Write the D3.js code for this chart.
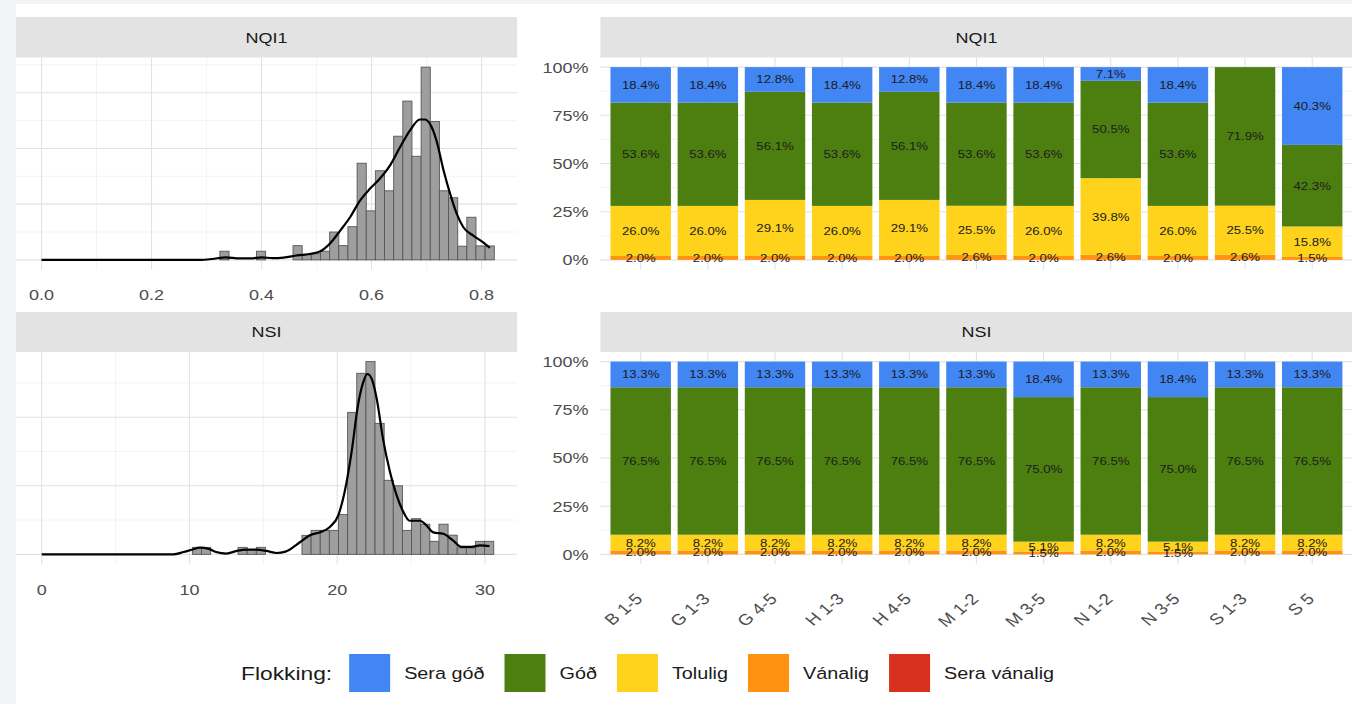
<!DOCTYPE html>
<html>
<head>
<meta charset="utf-8">
<script src="https://cdn.jsdelivr.net/npm/d3@7"></script>
<style>
  html, body { margin: 0; padding: 0; background: #f2f3f5; }
  svg { display: block; font-family: "Liberation Sans", Arial, sans-serif; }
</style>
</head>
<body>
<svg id="chart" width="1352" height="704"></svg>
<script>
// ---------------- data ----------------
// NQI1 histogram (density scale), bin mids and heights
const nqiBinWidth = 0.01663;
const nqiBinMids = [0.3326, 0.3991, 0.4656, 0.4823, 0.4989, 0.5155, 0.5322, 0.5488, 0.5654, 0.5821,
  0.5987, 0.6153, 0.6319, 0.6486, 0.6652, 0.6818, 0.6985, 0.7151, 0.7317, 0.7484,
  0.7650, 0.7816, 0.7982, 0.8149];
const nqiBinDensity = [0.31, 0.31, 0.51, 0.18, 0.22, 0.31, 1.0, 0.51, 1.19, 3.47,
  1.76, 3.2, 2.48, 4.44, 5.7, 3.72, 6.92, 4.97, 2.48, 2.23,
  0.49, 1.53, 0.5, 0.5];
// NQI1 kernel density estimate
const nqiCurveX = [0, 0.1, 0.2, 0.29, 0.31, 0.335, 0.36, 0.38, 0.40, 0.42, 0.44, 0.465, 0.49, 0.506,
  0.525, 0.543, 0.561, 0.579, 0.597, 0.615, 0.634, 0.652, 0.670, 0.688, 0.697, 0.706, 0.718,
  0.731, 0.743, 0.755, 0.767, 0.785, 0.803, 0.815];
const nqiCurveY = [0, 0, 0, 0, 0.03, 0.09, 0.05, 0.05, 0.09, 0.06, 0.08, 0.16, 0.22, 0.3,
  0.6, 1.05, 1.53, 2.13, 2.55, 2.91, 3.4, 4.05, 4.65, 5.04, 5.04, 4.89, 4.29,
  3.21, 2.37, 1.65, 1.17, 0.87, 0.63, 0.43];
const nqiXTicks = [0, 0.2, 0.4, 0.6, 0.8];
const nqiXMinor = [0.1, 0.3, 0.5, 0.7];
const nqiYTicks = [0, 2, 4, 6];
const nqiYMinor = [1, 3, 5, 7];

// NSI histogram (density scale)
const nsiBinWidth = 0.618;
const nsiBinMids = [10.506, 11.124, 13.596, 14.214, 14.832, 17.922, 18.54, 19.158, 19.776, 20.394,
  21.012, 21.63, 22.248, 22.866, 23.484, 24.102, 24.72, 25.338, 25.956, 26.574,
  27.192, 27.81, 28.428, 29.046, 29.664, 30.282];
const nsiBinDensity = [0.0102, 0.0102, 0.0102, 0.0066, 0.0102, 0.0277, 0.035, 0.035, 0.035, 0.058,
  0.207, 0.264, 0.281, 0.191, 0.108, 0.100, 0.035, 0.052, 0.044, 0.019,
  0.044, 0.028, 0.0095, 0.0095, 0.019, 0.019];
const nsiCurveX = [0, 4, 8.9, 9.6, 10.15, 10.7, 11.3, 11.8, 12.5, 13.2, 13.9, 14.5, 15.2, 15.9, 16.5,
  17.5, 18.15, 18.8, 19.5, 20.07, 20.5, 20.97, 21.4, 21.76, 22.03, 22.33, 22.67, 23.1, 23.57,
  24.02, 24.47, 24.9, 25.6, 26.05, 26.5, 27.17, 27.85, 28.4, 29.1, 29.66, 30.3];
const nsiCurveY = [0, 0, 0, 0.0034, 0.0068, 0.0097, 0.008, 0.0034, 0.0012, 0.005, 0.0068, 0.0068, 0.005, 0.002, 0.004,
  0.018, 0.028, 0.032, 0.040, 0.057, 0.091, 0.149, 0.217, 0.251, 0.263, 0.256, 0.227, 0.168, 0.120,
  0.086, 0.062, 0.049, 0.049, 0.042, 0.032, 0.030, 0.020, 0.011, 0.011, 0.013, 0.012];
const nsiXTicks = [0, 10, 20, 30];
const nsiXMinor = [5, 15, 25];
const nsiYTicks = [0, 0.1, 0.2];
const nsiYMinor = [0.05, 0.15, 0.25];

// Stacked shares per station group
const categories = ["B 1-5", "G 1-3", "G 4-5", "H 1-3", "H 4-5", "M 1-2", "M 3-5", "N 1-2", "N 3-5", "S 1-3", "S 5"];
const classes = ["Sera góð", "Góð", "Tolulig", "Vánalig", "Sera vánalig"];
const classColors = ["#4286f4", "#4c7f10", "#ffd21c", "#ff9210", "#d8321e"];

const nqiSeraGod     = [18.4, 18.4, 12.8, 18.4, 12.8, 18.4, 18.4, 7.1, 18.4, 0, 40.3];
const nqiGod         = [53.6, 53.6, 56.1, 53.6, 56.1, 53.6, 53.6, 50.5, 53.6, 71.9, 42.3];
const nqiTolulig     = [26.0, 26.0, 29.1, 26.0, 29.1, 25.5, 26.0, 39.8, 26.0, 25.5, 15.8];
const nqiVanalig     = [2.0, 2.0, 2.0, 2.0, 2.0, 2.6, 2.0, 2.6, 2.0, 2.6, 1.5];
const nqiSeraVanalig = [0, 0, 0, 0, 0, 0, 0, 0, 0, 0, 0];

const nsiSeraGod     = [13.3, 13.3, 13.3, 13.3, 13.3, 13.3, 18.4, 13.3, 18.4, 13.3, 13.3];
const nsiGod         = [76.5, 76.5, 76.5, 76.5, 76.5, 76.5, 75.0, 76.5, 75.0, 76.5, 76.5];
const nsiTolulig     = [8.2, 8.2, 8.2, 8.2, 8.2, 8.2, 5.1, 8.2, 5.1, 8.2, 8.2];
const nsiVanalig     = [2.0, 2.0, 2.0, 2.0, 2.0, 2.0, 1.5, 2.0, 1.5, 2.0, 2.0];
const nsiSeraVanalig = [0, 0, 0, 0, 0, 0, 0, 0, 0, 0, 0];

const yPctTicks = [0, 0.25, 0.5, 0.75, 1];
const yPctMinor = [0.125, 0.375, 0.625, 0.875];

// ---------------- layout & style ----------------
const SX = 1.2; // horizontal text stretch
const gridMajor = "#e2e2e2", gridMinor = "#f0f0f0";
const tickColor = "#4d4d4d", stripFill = "#e3e3e3", stripText = "#1a1a1a";

const svg = d3.select("#chart");
svg.append("rect").attr("x", 16).attr("y", 4).attr("width", 1336).attr("height", 700).attr("fill", "#ffffff");

function stext(g, x, y, str, size, color, anchor) {
  return g.append("text")
    .attr("transform", `translate(${x},${y}) scale(${SX},1)`)
    .attr("text-anchor", anchor || "middle")
    .attr("font-size", size)
    .attr("fill", color)
    .text(str);
}

function strip(x0, x1, y0, y1, label) {
  svg.append("rect").attr("x", x0).attr("y", y0).attr("width", x1 - x0).attr("height", y1 - y0).attr("fill", stripFill);
  stext(svg, (x0 + x1) / 2, (y0 + y1) / 2 + 5.3, label, 15, stripText);
}

// ---------------- histograms ----------------
function drawHist(o) {
  const x = d3.scaleLinear().domain(o.xDomain).range([o.x0, o.x1]);
  const maxH = d3.max(o.dens);
  const y = d3.scaleLinear().domain([-0.05 * maxH, 1.05 * maxH]).range([o.y1, o.y0]);
  const g = svg.append("g");

  o.xMinor.forEach(v => g.append("line").attr("x1", x(v)).attr("x2", x(v)).attr("y1", o.y0).attr("y2", o.y1).attr("stroke", gridMinor).attr("stroke-width", 0.8));
  o.yMinor.forEach(v => { if (y(v) > o.y0) g.append("line").attr("x1", o.x0).attr("x2", o.x1).attr("y1", y(v)).attr("y2", y(v)).attr("stroke", gridMinor).attr("stroke-width", 0.8); });
  o.xTicks.forEach(v => g.append("line").attr("x1", x(v)).attr("x2", x(v)).attr("y1", o.y0).attr("y2", o.y1).attr("stroke", gridMajor).attr("stroke-width", 1.1));
  o.yTicks.forEach(v => g.append("line").attr("x1", o.x0).attr("x2", o.x1).attr("y1", y(v)).attr("y2", y(v)).attr("stroke", gridMajor).attr("stroke-width", 1.1));

  g.selectAll("rect.bin").data(o.mids).enter().append("rect")
    .attr("x", d => x(d - o.binW / 2))
    .attr("width", d => x(d + o.binW / 2) - x(d - o.binW / 2))
    .attr("y", (d, i) => y(o.dens[i]))
    .attr("height", (d, i) => y(0) - y(o.dens[i]))
    .attr("fill", "#9e9e9e")
    .attr("stroke", "#575757")
    .attr("stroke-width", 0.9);

  const line = d3.line().x(d => x(d[0])).y(d => y(d[1])).curve(d3.curveMonotoneX);
  g.append("path").datum(o.cx.map((v, i) => [v, o.cy[i]]))
    .attr("d", line).attr("fill", "none").attr("stroke", "#000").attr("stroke-width", 2.2);

  o.xTicks.forEach(v => stext(g, x(v), o.y1 + 30.5, o.fmt(v), 15, tickColor));
}

// ---------------- stacked percentage bars ----------------
function drawStack(o) {
  const rows = categories.map((c, i) => {
    const r = { cat: c };
    classes.forEach((k, j) => r[k] = o.series[j][i]);
    return r;
  });
  const keys = classes.slice().reverse();
  const stacked = d3.stack().keys(keys).offset(d3.stackOffsetExpand)(rows);

  const x = d3.scaleBand().domain(categories).range([o.x0, o.x1]).paddingInner(0.1).paddingOuter(0.15);
  const y = d3.scaleLinear().domain([-0.05, 1.05]).range([o.y1, o.y0]);
  const g = svg.append("g");

  yPctMinor.forEach(v => g.append("line").attr("x1", o.x0).attr("x2", o.x1).attr("y1", y(v)).attr("y2", y(v)).attr("stroke", gridMinor).attr("stroke-width", 0.8));
  yPctTicks.forEach(v => g.append("line").attr("x1", o.x0).attr("x2", o.x1).attr("y1", y(v)).attr("y2", y(v)).attr("stroke", gridMajor).attr("stroke-width", 1.1));
  categories.forEach(c => {
    const cx = x(c) + x.bandwidth() / 2;
    g.append("line").attr("x1", cx).attr("x2", cx).attr("y1", o.y0).attr("y2", o.y1).attr("stroke", gridMajor).attr("stroke-width", 1.1);
  });

  stacked.forEach(s => {
    const color = classColors[classes.indexOf(s.key)];
    g.selectAll(null).data(s).enter().append("rect")
      .attr("x", d => x(d.data.cat))
      .attr("width", x.bandwidth())
      .attr("y", d => y(d[1]))
      .attr("height", d => y(d[0]) - y(d[1]))
      .attr("fill", color);
  });
  stacked.forEach(s => {
    s.forEach(d => {
      const v = d.data[s.key];
      if (v > 0) {
        stext(g, x(d.data.cat) + x.bandwidth() / 2, y((d[0] + d[1]) / 2) + 4, v.toFixed(1) + "%", 11, "#1c1c1c");
      }
    });
  });

  const fmtPct = d3.format(".0%");
  yPctTicks.forEach(v => stext(g, o.x0 - 12, y(v) + 5.4, fmtPct(v), 15, tickColor, "end"));

  if (o.catLabels) {
    categories.forEach(c => {
      const cx = x(c) + x.bandwidth() / 2;
      g.append("text")
        .attr("transform", `translate(${cx + 3},${o.y1 + 36}) scale(${SX},1) rotate(-45)`)
        .attr("text-anchor", "end")
        .attr("font-size", 15.5)
        .attr("fill", tickColor)
        .text(c);
    });
  }
}

// ---------------- panels ----------------
const L0 = 16, L1 = 517, R0 = 600.4, R1 = 1352.5;
const top1 = { s0: 17, s1: 57.5, p1: 269.5 };
const top2 = { s0: 312, s1: 352, p1: 564 };

strip(L0, L1, top1.s0, top1.s1, "NQI1");
strip(R0, R1, top1.s0, top1.s1, "NQI1");
strip(L0, L1, top2.s0, top2.s1, "NSI");
strip(R0, R1, top2.s0, top2.s1, "NSI");

drawHist({
  x0: L0, x1: L1, y0: top1.s1, y1: top1.p1,
  xDomain: [-0.0464, 0.8645], mids: nqiBinMids, dens: nqiBinDensity, binW: nqiBinWidth,
  cx: nqiCurveX, cy: nqiCurveY, xTicks: nqiXTicks, xMinor: nqiXMinor, yTicks: nqiYTicks, yMinor: nqiYMinor,
  fmt: d3.format(".1f")
});
drawHist({
  x0: L0, x1: L1, y0: top2.s1, y1: top2.p1,
  xDomain: [-1.74, 32.165], mids: nsiBinMids, dens: nsiBinDensity, binW: nsiBinWidth,
  cx: nsiCurveX, cy: nsiCurveY, xTicks: nsiXTicks, xMinor: nsiXMinor, yTicks: nsiYTicks, yMinor: nsiYMinor,
  fmt: d3.format("d")
});

drawStack({
  x0: R0, x1: R1, y0: top1.s1, y1: top1.p1,
  series: [nqiSeraGod, nqiGod, nqiTolulig, nqiVanalig, nqiSeraVanalig], catLabels: false
});
drawStack({
  x0: R0, x1: R1, y0: top2.s1, y1: top2.p1,
  series: [nsiSeraGod, nsiGod, nsiTolulig, nsiVanalig, nsiSeraVanalig], catLabels: true
});

// ---------------- legend ----------------
const leg = svg.append("g");
const legY = 673;
const title = stext(leg, 241, legY + 7, "Flokking:", 19, "#1a1a1a", "start");
let cursor = 241 + title.node().getComputedTextLength() * SX + 17;
classes.forEach((c, i) => {
  leg.append("rect").attr("x", cursor).attr("y", legY - 19).attr("width", 41).attr("height", 38).attr("fill", classColors[i]);
  const t = stext(leg, cursor + 55, legY + 6, c, 16.5, "#1a1a1a", "start");
  cursor += 55 + t.node().getComputedTextLength() * SX + 20;
});
</script>
</body>
</html>
